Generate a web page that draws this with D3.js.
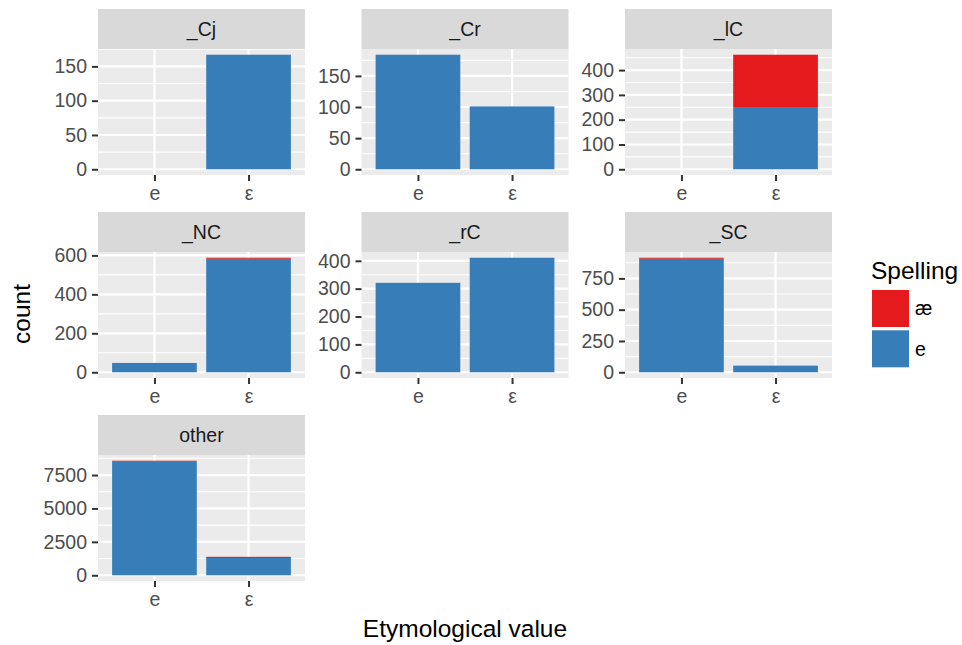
<!DOCTYPE html>
<html>
<head>
<meta charset="utf-8">
<script src="https://cdn.jsdelivr.net/npm/d3@7"></script>
<style>
  html, body { margin: 0; padding: 0; background: #fff; }
  svg { display: block; font-family: "Liberation Sans", Arial, Helvetica, sans-serif; }
</style>
</head>
<body>
<svg id="chart" width="962" height="645"></svg>
<script>
// Facets (etymological context) and x categories (etymological value)
const facets = ["_Cj", "_Cr", "_lC", "_NC", "_rC", "_SC", "other"];
const etymValues = ["e", "ε"];
const spellings = ["æ", "e"];           // legend order (top to bottom)

// Counts per facet, spelling "e"
const spellE_atE   = [0, 184, 0, 48, 321, 907, 8495];
const spellE_atEps = [167, 101, 248, 583, 411, 53, 1295];
// Counts per facet, spelling "æ"
const spellAe_atE   = [0, 0, 0, 0, 0, 8, 75];
const spellAe_atEps = [0, 0, 214, 5, 0, 0, 85];

// Y tick values per facet (free y scales)
const yTicks = [
  [0, 50, 100, 150],
  [0, 50, 100, 150],
  [0, 100, 200, 300, 400],
  [0, 200, 400, 600],
  [0, 100, 200, 300, 400],
  [0, 250, 500, 750],
  [0, 2500, 5000, 7500]
];

const colors = { "æ": "#E41A1C", "e": "#377EB8" };

// Layout
const colX = [98, 361.5, 625];
const rowY = [9, 212, 415];
const panelW = 207, stripH = 40, panelH = 126;
const tickFont = 19.5, titleFont = 24.5;

const svg = d3.select("#chart");

facets.forEach((name, i) => {
  const col = i % 3, row = Math.floor(i / 3);
  const x0 = colX[col], yStrip = rowY[row], y0 = yStrip + stripH;

  const rows = etymValues.map((ev, k) => {
    const e = k === 0 ? spellE_atE[i] : spellE_atEps[i];
    const ae = k === 0 ? spellAe_atE[i] : spellAe_atEps[i];
    return { etym: ev, e, ae, total: e + ae };
  });
  const maxV = d3.max(rows, d => d.total);

  const x = d3.scalePoint().domain(etymValues).range([0, panelW]).padding(0.6);
  const step = x.step();
  const barW = step * 0.9;
  const y = d3.scaleLinear().domain([-0.05 * maxV, 1.05 * maxV]).range([panelH, 0]);

  const g = svg.append("g").attr("transform", `translate(${x0},${y0})`);

  // strip
  svg.append("rect").attr("x", x0).attr("y", yStrip).attr("width", panelW).attr("height", stripH)
    .attr("fill", "#D9D9D9");
  svg.append("text").attr("x", x0 + panelW / 2).attr("y", yStrip + stripH / 2 + tickFont * 0.35)
    .attr("text-anchor", "middle").attr("font-size", tickFont).attr("fill", "#1A1A1A").text(name);

  // panel background
  g.append("rect").attr("width", panelW).attr("height", panelH).attr("fill", "#EBEBEB");

  // minor grid
  const ticks = yTicks[i];
  const tStep = ticks[1] - ticks[0];
  const minor = [];
  for (let v = ticks[0] - tStep / 2; v <= ticks[ticks.length - 1] + tStep; v += tStep) {
    if (v >= y.domain()[0] && v <= y.domain()[1]) minor.push(v);
  }
  g.selectAll(".minor").data(minor).join("line")
    .attr("x1", 0).attr("x2", panelW).attr("y1", d => y(d)).attr("y2", d => y(d))
    .attr("stroke", "#fff").attr("stroke-width", 1.1);

  // major grid
  g.selectAll(".majorY").data(ticks).join("line")
    .attr("x1", 0).attr("x2", panelW).attr("y1", d => y(d)).attr("y2", d => y(d))
    .attr("stroke", "#fff").attr("stroke-width", 2.2);
  g.selectAll(".majorX").data(etymValues).join("line")
    .attr("x1", d => x(d)).attr("x2", d => x(d)).attr("y1", 0).attr("y2", panelH)
    .attr("stroke", "#fff").attr("stroke-width", 2.2);

  // stacked bars: "e" at bottom, "æ" on top
  rows.forEach(r => {
    if (r.e > 0) {
      g.append("rect").attr("x", x(r.etym) - barW / 2).attr("width", barW)
        .attr("y", y(r.e)).attr("height", y(0) - y(r.e)).attr("fill", colors["e"]);
    }
    if (r.ae > 0) {
      g.append("rect").attr("x", x(r.etym) - barW / 2).attr("width", barW)
        .attr("y", y(r.total)).attr("height", y(r.e) - y(r.total)).attr("fill", colors["æ"]);
    }
  });

  // y axis
  const yAxis = d3.axisLeft(y).tickValues(ticks).tickFormat(d3.format("d")).tickSize(6).tickPadding(5);
  const ya = g.append("g").call(yAxis);
  ya.select(".domain").remove();
  ya.selectAll(".tick line").attr("stroke", "#333").attr("stroke-width", 2);
  ya.selectAll(".tick text").attr("font-size", tickFont).attr("fill", "#4D4D4D")
    .attr("font-family", null);

  // x axis
  const xAxis = d3.axisBottom(x).tickSize(6).tickPadding(5);
  const xa = g.append("g").attr("transform", `translate(0,${panelH})`).call(xAxis);
  xa.select(".domain").remove();
  xa.selectAll(".tick line").attr("stroke", "#333").attr("stroke-width", 2);
  xa.selectAll(".tick text").attr("font-size", tickFont).attr("fill", "#4D4D4D")
    .attr("font-family", null);
});

// axis titles
svg.append("text").attr("x", (colX[0] + colX[2] + panelW) / 2).attr("y", 637)
  .attr("text-anchor", "middle").attr("font-size", titleFont).attr("fill", "#000")
  .text("Etymological value");
svg.append("text").attr("transform", "translate(30,314) rotate(-90)")
  .attr("text-anchor", "middle").attr("font-size", titleFont).attr("fill", "#000")
  .text("count");

// legend
const legend = svg.append("g").attr("transform", "translate(871,0)");
legend.append("text").attr("x", 0).attr("y", 279).attr("font-size", titleFont).attr("fill", "#000")
  .text("Spelling");
const keyH = 37, keyGap = 3.3, keyTop = 290;
spellings.forEach((s, k) => {
  const ky = keyTop + k * (keyH + keyGap);
  legend.append("rect").attr("x", 1).attr("y", ky).attr("width", 37).attr("height", keyH)
    .attr("fill", colors[s]);
  legend.append("text").attr("x", 44).attr("y", ky + keyH / 2 + tickFont * 0.35)
    .attr("font-size", tickFont).attr("fill", "#000").text(s);
});
</script>
</body>
</html>
